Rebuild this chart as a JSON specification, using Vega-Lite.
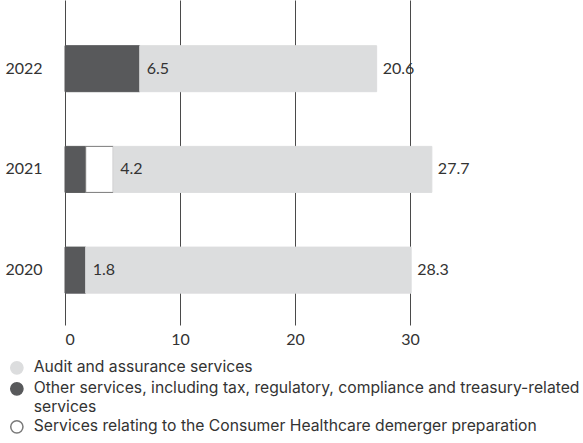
{
  "$schema": "https://vega.github.io/schema/vega-lite/v6.json",
  "autosize": {"type": "none"},
  "width": 460,
  "height": 325,
  "padding": {"left": 65, "top": 0, "right": 58, "bottom": 118},
  "title": {"text": "Group audit fees (£m)", "anchor": "end", "color": "#f36633", "fontSize": 24, "fontWeight": "normal", "font": "Lato", "baseline": "bottom", "offset": -20, "dx": 25, "frame": "group"},
  "data": {"values": [
    {"year": "2022", "category": "Other services, including tax, regulatory, compliance and treasury-related services", "value": 6.5},
    {"year": "2022", "category": "Audit and assurance services", "value": 20.6},
    {"year": "2021", "category": "Other services, including tax, regulatory, compliance and treasury-related services", "value": 1.8},
    {"year": "2021", "category": "Services relating to the Consumer Healthcare demerger preparation", "value": 2.4},
    {"year": "2021", "category": "Audit and assurance services", "value": 27.7},
    {"year": "2020", "category": "Other services, including tax, regulatory, compliance and treasury-related services", "value": 1.8},
    {"year": "2020", "category": "Audit and assurance services", "value": 28.3}
  ]},
  "transform": [
    {"stack": "value", "groupby": ["year"], "sort": [{"field": "value", "order": "ascending"}], "as": ["x0", "x1"]}
  ],
  "encoding": {
    "y": {"field": "year", "type": "ordinal", "sort": "descending",
      "scale": {"paddingInner": 0.543, "paddingOuter": 0.385, "align": 0.589},
      "axis": {"title": null, "domain": false, "ticks": false, "labelPadding": 23, "labelFontSize": 16, "labelColor": "#333333", "labelFont": "Lato"}}
  },
  "layer": [
    {
      "mark": {"type": "bar", "strokeWidth": 1},
      "encoding": {
        "x": {"field": "x0", "type": "quantitative", "scale": {"domain": [0, 40], "nice": false},
          "axis": {"title": null, "values": [0, 10, 20, 30], "domain": false, "ticks": false, "grid": true, "gridColor": "#4a4a4a", "gridOpacity": 1, "gridWidth": 1, "labelPadding": 6, "labelFontSize": 16, "labelColor": "#333333", "labelFont": "Lato"}},
        "x2": {"field": "x1"},
        "color": {"field": "category", "type": "nominal",
          "scale": {"domain": ["Audit and assurance services", "Other services, including tax, regulatory, compliance and treasury-related services", "Services relating to the Consumer Healthcare demerger preparation"], "range": ["#dcddde", "#58595b", "#ffffff"]},
          "legend": {"title": null, "orient": "none", "legendX": -56, "legendY": 360, "direction": "vertical", "padding": 0,
            "symbolType": "circle", "symbolSize": 150, "symbolStrokeWidth": 1.5, "symbolOpacity": 1,
            "labelFontSize": 15.7, "labelFont": "Inter", "labelColor": "#333333", "labelLimit": 700, "labelOffset": 9, "rowPadding": 2,
            "labelBaseline": "top",
            "labelExpr": "datum.label == 'Other services, including tax, regulatory, compliance and treasury-related services' ? ['Other services, including tax, regulatory, compliance and treasury-related', 'services'] : datum.label",
            "encoding": {"labels": {"dy": {"value": -8}, "lineHeight": {"value": 19}}}}},
        "stroke": {"field": "category", "type": "nominal",
          "scale": {"domain": ["Audit and assurance services", "Other services, including tax, regulatory, compliance and treasury-related services", "Services relating to the Consumer Healthcare demerger preparation"], "range": ["#dcddde", "#58595b", "#7a7a7a"]}}
      }
    },
    {
      "transform": [{"filter": "datum.category == 'Audit and assurance services'"}],
      "mark": {"type": "text", "align": "left", "baseline": "middle", "dx": 6, "fontSize": 16, "font": "Lato", "color": "#333333"},
      "encoding": {
        "x": {"field": "x1", "type": "quantitative"},
        "text": {"field": "value", "type": "quantitative", "format": ".1f"}
      }
    },
    {
      "transform": [{"filter": "datum.category == 'Audit and assurance services'"}],
      "mark": {"type": "text", "align": "left", "baseline": "middle", "dx": 7, "fontSize": 16, "font": "Lato", "color": "#333333"},
      "encoding": {
        "x": {"field": "x0", "type": "quantitative"},
        "text": {"field": "x0", "type": "quantitative", "format": ".1f"}
      }
    }
  ],
  "config": {"view": {"stroke": null}}
}
